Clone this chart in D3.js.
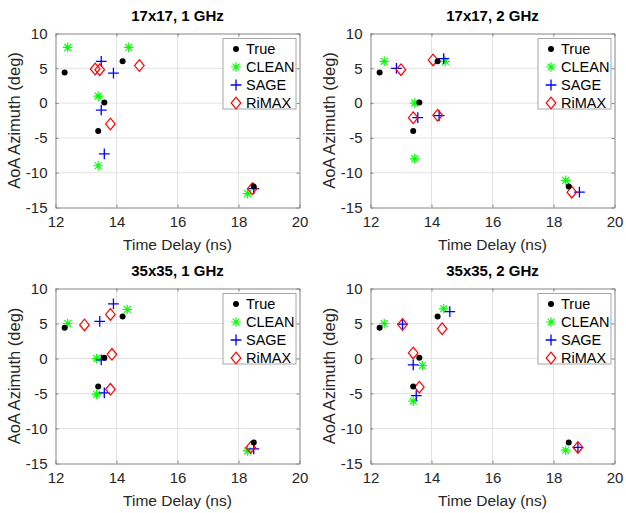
<!DOCTYPE html>
<html>
<head>
<meta charset="utf-8">
<script src="https://cdn.jsdelivr.net/npm/d3@7"></script>
<style>
  html, body { margin: 0; padding: 0; background: #fff; }
  svg { display: block; font-family: "Liberation Sans", Arial, sans-serif; }
</style>
</head>
<body>
<svg id="chart" width="626" height="513"></svg>
<script>
// Panel titles and axis ticks
const panelTitles = ["17x17, 1 GHz", "17x17, 2 GHz", "35x35, 1 GHz", "35x35, 2 GHz"];
const xTicks = [12, 14, 16, 18, 20];
const yTicks = [-15, -10, -5, 0, 5, 10];
const seriesNames = ["True", "CLEAN", "SAGE", "RiMAX"];

// Ground-truth paths: [delay (ns), azimuth (deg)]
const truePaths = [[12.3, 4.4], [14.2, 6.0], [13.6, 0.1], [13.4, -4.0], [18.5, -12.0]];

// 17x17 array, 1 GHz
const clean17x1 = [[12.4, 8.0], [14.4, 8.0], [13.4, 1.0], [13.4, -9.0], [18.3, -13.0]];
const sage17x1  = [[13.5, 6.0], [13.9, 4.3], [13.5, -1.0], [13.6, -7.3], [18.5, -12.3]];
const rimax17x1 = [[13.3, 4.9], [13.45, 4.8], [14.75, 5.4], [13.8, -3.0], [18.45, -12.3]];

// 17x17 array, 2 GHz
const clean17x2 = [[12.45, 6.0], [14.45, 6.0], [13.45, 0.0], [13.45, -8.0], [18.4, -11.1]];
const sage17x2  = [[12.85, 5.0], [14.4, 6.4], [13.55, -2.1], [14.25, -1.8], [18.85, -12.8]];
const rimax17x2 = [[13.0, 4.8], [14.05, 6.2], [13.4, -2.1], [14.2, -1.75], [18.6, -12.8]];

// 35x35 array, 1 GHz
const clean35x1 = [[12.4, 5.0], [14.35, 7.0], [13.35, 0.0], [13.35, -5.1], [18.3, -13.2]];
const sage35x1  = [[13.45, 5.3], [13.9, 7.8], [13.5, -0.2], [13.6, -4.9], [18.5, -12.9]];
const rimax35x1 = [[12.95, 4.8], [13.8, 6.3], [13.85, 0.6], [13.8, -4.4], [18.4, -12.7]];

// 35x35 array, 2 GHz
const clean35x2 = [[12.45, 5.0], [14.4, 7.1], [13.7, -1.0], [13.4, -6.1], [18.4, -13.1]];
const sage35x2  = [[13.05, 4.9], [14.6, 6.7], [13.4, -0.9], [13.5, -5.3], [18.8, -12.7]];
const rimax35x2 = [[13.05, 4.85], [14.35, 4.25], [13.4, 0.8], [13.6, -4.1], [18.8, -12.7]];

const panelSeries = [
  { clean: clean17x1, sage: sage17x1, rimax: rimax17x1 },
  { clean: clean17x2, sage: sage17x2, rimax: rimax17x2 },
  { clean: clean35x1, sage: sage35x1, rimax: rimax35x1 },
  { clean: clean35x2, sage: sage35x2, rimax: rimax35x2 }
];

// Panel frames in page pixels
const colX = [[55.5, 299.5], [370.5, 614.5]];
const rowY = [[33.5, 207.5], [288.5, 463.5]];

const svg = d3.select("#chart");
const axisColor = "#262626";
const frameColor = "#858585";
const gridColor = "#e3e3e3";

// Marker drawers
function drawDot(g, x, y) {
  g.append("circle").attr("cx", x).attr("cy", y).attr("r", 3).attr("fill", "#000");
}
function drawStar(g, x, y) {
  const r = 4.8, d = r * Math.SQRT1_2;
  const p = `M${x - r},${y}H${x + r}M${x},${y - r}V${y + r}` +
            `M${x - d},${y - d}L${x + d},${y + d}M${x - d},${y + d}L${x + d},${y - d}`;
  g.append("path").attr("d", p).attr("stroke", "#00ff00").attr("stroke-width", 1.2).attr("fill", "none");
}
function drawPlus(g, x, y) {
  const r = 5.4;
  g.append("path").attr("d", `M${x - r},${y}H${x + r}M${x},${y - r}V${y + r}`)
    .attr("stroke", "#0000ff").attr("stroke-width", 1.3).attr("fill", "none");
}
function drawDiamond(g, x, y) {
  const w = 4.8, h = 5.8;
  g.append("path").attr("d", `M${x},${y - h}L${x + w},${y}L${x},${y + h}L${x - w},${y}Z`)
    .attr("stroke", "#ff0000").attr("stroke-width", 1.2).attr("fill", "none");
}
const drawers = [drawDot, drawStar, drawPlus, drawDiamond];

panelTitles.forEach((title, i) => {
  const [x0, x1] = colX[i % 2];
  const [y0, y1] = rowY[Math.floor(i / 2)];
  const x = d3.scaleLinear().domain([12, 20]).range([x0, x1]);
  const y = d3.scaleLinear().domain([-15, 10]).range([y1, y0]);
  const g = svg.append("g");

  // Grid
  g.append("g").selectAll("line").data(xTicks.slice(1, -1)).join("line")
    .attr("x1", d => x(d)).attr("x2", d => x(d)).attr("y1", y0).attr("y2", y1)
    .attr("stroke", gridColor).attr("stroke-width", 1);
  g.append("g").selectAll("line").data(yTicks.slice(1, -1)).join("line")
    .attr("y1", d => y(d)).attr("y2", d => y(d)).attr("x1", x0).attr("x2", x1)
    .attr("stroke", gridColor).attr("stroke-width", 1);

  // Axes with inward ticks, mirrored on top and right
  const xAxis = g.append("g").attr("transform", `translate(0,${y1})`)
    .call(d3.axisBottom(x).tickValues(xTicks).tickSizeInner(-3).tickSizeOuter(0).tickPadding(9));
  const xTop = g.append("g").attr("transform", `translate(0,${y0})`)
    .call(d3.axisTop(x).tickValues(xTicks).tickSizeInner(-3).tickSizeOuter(0).tickFormat(""));
  const yAxis = g.append("g").attr("transform", `translate(${x0},0)`)
    .call(d3.axisLeft(y).tickValues(yTicks).tickSizeInner(-3).tickSizeOuter(0).tickPadding(8));
  const yRight = g.append("g").attr("transform", `translate(${x1},0)`)
    .call(d3.axisRight(y).tickValues(yTicks).tickSizeInner(-3).tickSizeOuter(0).tickFormat(""));
  [xAxis, xTop, yAxis, yRight].forEach(a => {
    a.select(".domain").attr("stroke", frameColor);
    a.selectAll(".tick line").attr("stroke", frameColor);
    a.selectAll("text").attr("fill", axisColor).style("font-size", "15px")
      .style("font-family", "'Liberation Sans', Arial, sans-serif");
  });
  yAxis.selectAll("text").text(d => d < 0 ? "-" + Math.abs(d) : d);

  // Titles and axis labels
  g.append("text").attr("x", (x0 + x1) / 2).attr("y", y0 - 13)
    .attr("text-anchor", "middle").attr("fill", "#000")
    .style("font-size", "15px").style("font-weight", "bold").text(title);
  g.append("text").attr("x", (x0 + x1) / 2).attr("y", y1 + 42)
    .attr("text-anchor", "middle").attr("fill", axisColor)
    .style("font-size", "15.5px").text("Time Delay (ns)");
  g.append("text")
    .attr("transform", `translate(${x0 - 36},${(y0 + y1) / 2}) rotate(-90)`)
    .attr("text-anchor", "middle").attr("fill", axisColor)
    .style("font-size", "16.5px").text("AoA Azimuth (deg)");

  // Markers
  const series = panelSeries[i];
  const marks = g.append("g");
  series.clean.forEach(d => drawStar(marks, x(d[0]), y(d[1])));
  series.sage.forEach(d => drawPlus(marks, x(d[0]), y(d[1])));
  series.rimax.forEach(d => drawDiamond(marks, x(d[0]), y(d[1])));
  truePaths.forEach(d => drawDot(marks, x(d[0]), y(d[1])));

  // Legend
  const lx = x1 - 77, ly = y0 + 4.5;
  const leg = g.append("g").attr("transform", `translate(${lx},${ly})`);
  leg.append("rect").attr("x", 0.5).attr("y", 0.5).attr("width", 73).attr("height", 70.5)
    .attr("fill", "#fff").attr("stroke", "#a6a6a6").attr("stroke-width", 1);
  seriesNames.forEach((name, k) => {
    const cy = 11 + k * 18;
    drawers[k](leg, 13.5, cy);
    leg.append("text").attr("x", 23.5).attr("y", cy + 5).attr("fill", "#000")
      .style("font-size", "14.5px").text(name);
  });
});
</script>
</body>
</html>
